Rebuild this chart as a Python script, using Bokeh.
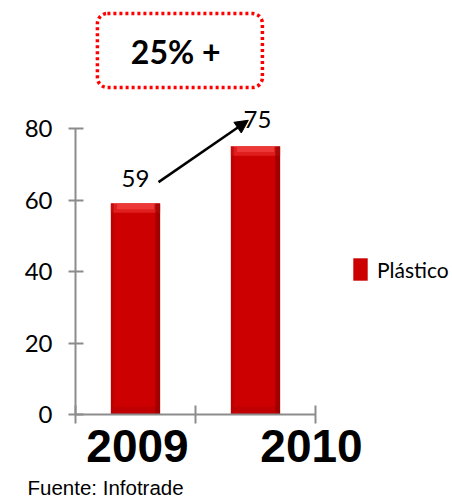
from bokeh.plotting import figure
from bokeh.models import (LinearAxis, FixedTicker, Range1d, ColumnDataSource, Arrow,
                          NormalHead, Legend, LegendItem)
from bokeh.core.properties import value
from bokeh.embed import file_html
from bokeh.resources import INLINE

# ---- data ----
years = ["2009", "2010"]
plastico = [59, 75]
series_name = "Plástico"
y_ticks = [0, 20, 40, 60, 80]
growth_label = "25% +"
source_note = "Fuente: Infotrade"

# ---- layout constants (pixels) ----
W, H = 452, 499
X0_PX, Y0_PX = 75, 414      # screen position of data origin
PX_PER_CAT = 120
PX_PER_UNIT = 286 / 80

x_start = -X0_PX / PX_PER_CAT
x_end = (W - X0_PX) / PX_PER_CAT
y_end = Y0_PX / PX_PER_UNIT
y_start = -(H - Y0_PX) / PX_PER_UNIT

p = figure(width=W, height=H, output_backend="svg", toolbar_location=None,
           x_range=Range1d(x_start, x_end), y_range=Range1d(y_start, y_end),
           x_axis_location=None, y_axis_location=None, min_border=0)
p.outline_line_color = None
p.xgrid.visible = False
p.ygrid.visible = False
p.background_fill_color = "white"

centers = [i + 0.5 for i in range(len(years))]
bw = 0.41
src = ColumnDataSource(dict(x=centers, top=plastico,
                            bev=[v - 2.6 for v in plastico],
                            bev2=[v - 1.6 for v in plastico],
                            base=[2.2] * len(years),
                            xr=[c + bw / 2 - 0.02 for c in centers],
                            xl=[c - bw / 2 + 0.012 for c in centers]))

bars = p.vbar(x="x", top="top", bottom=0, width=bw, source=src,
              fill_color="#CC0000", line_color=None)
p.vbar(x="x", top="base", bottom=0, width=bw * 0.9, source=src,
       fill_color="#B80000", line_color=None, fill_alpha=0.6)
p.vbar(x="x", top="top", bottom="bev", width=bw, source=src,
       fill_color="#E01E1E", line_color=None)
p.vbar(x="x", top="top", bottom="bev2", width=bw * 0.75, source=src,
       fill_color="#EE3838", line_color=None)
p.vbar(x="xr", top="top", bottom=0, width=0.04, source=src,
       fill_color="#8E0000", line_color=None, fill_alpha=0.7)
p.vbar(x="xl", top="top", bottom=0, width=0.024, source=src,
       fill_color="#B00000", line_color=None, fill_alpha=0.6)

AX = "#8C8C8C"
yax = LinearAxis(fixed_location=0, ticker=FixedTicker(ticks=y_ticks), bounds=(0, 80))
yax.axis_line_color = AX
yax.axis_line_width = 2
yax.major_tick_line_color = AX
yax.major_tick_line_width = 2
yax.major_tick_in = 8
yax.major_tick_out = 7
yax.minor_tick_line_color = None
yax.major_label_standoff = 16
yax.major_label_text_font = "Lato"
yax.major_label_text_font_size = "24px"
yax.major_label_text_color = "black"
p.add_layout(yax, "left")

xax = LinearAxis(fixed_location=0, ticker=FixedTicker(ticks=list(range(len(years) + 1))),
                 bounds=(0, len(years)))
xax.axis_line_color = AX
xax.axis_line_width = 2
xax.major_tick_line_color = AX
xax.major_tick_line_width = 2
xax.major_tick_in = 9
xax.major_tick_out = 9
xax.minor_tick_line_color = None
xax.major_label_text_font_size = "0px"
xax.major_label_overrides = {i: "" for i in range(len(years) + 1)}
p.add_layout(xax, "below")

# year labels
ysrc = ColumnDataSource(dict(x=centers, y=[0] * len(years), t=years, dx=[2, 56]))
p.text(x="x", y="y", text="t", source=ysrc, x_offset="dx", y_offset=15,
       text_font=value("Liberation Sans"), text_font_style="bold",
       text_font_size="46px", text_align="center", text_baseline="top", text_color="black")

# value labels
vsrc = ColumnDataSource(dict(x=centers, y=plastico, t=[str(v) for v in plastico],
                             dx=[0, 2], dy=[-25, -27]))
p.text(x="x", y="y", text="t", source=vsrc, x_offset="dx", y_offset="dy",
       text_font=value("Lato"), text_font_size="24px", text_align="center",
       text_baseline="middle", text_color="black")

# arrow
p.add_layout(Arrow(x_start=0.692, y_start=65.0, x_end=1.44, y_end=82.3,
                   line_color="black", line_width=2.5,
                   end=NormalHead(size=13, fill_color="black", line_color="black")))

# growth box
p.rect(x=0.87, y=(414 - 50) / PX_PER_UNIT, width=165 / PX_PER_CAT, height=74 / PX_PER_UNIT,
       fill_color="white", line_color="#FF0000", line_width=3.5, line_dash="3 3",
       border_radius=10)
p.text(x=[0.87 - 0.035], y=[(414 - 51) / PX_PER_UNIT], text=[growth_label],
       text_font=value("Lato"), text_font_style="bold", text_font_size="32px",
       text_align="center", text_baseline="middle", text_color="black")

# source note
p.text(x=[(27 - X0_PX) / PX_PER_CAT], y=[y_start], text=[source_note], y_offset=-1,
       text_font=value("Liberation Sans"), text_font_size="20.5px",
       text_align="left", text_baseline="bottom", text_color="black")

legend = Legend(items=[LegendItem(label=series_name, renderers=[bars])],
                location=(351, 216), glyph_width=18, glyph_height=28,
                label_standoff=8, padding=0, margin=0, border_line_color=None,
                background_fill_alpha=0, label_text_font="Lato",
                label_text_font_size="21px", label_height=28,
                label_text_color="black")
p.add_layout(legend)

open("out.html", "w").write(file_html(p, INLINE))
